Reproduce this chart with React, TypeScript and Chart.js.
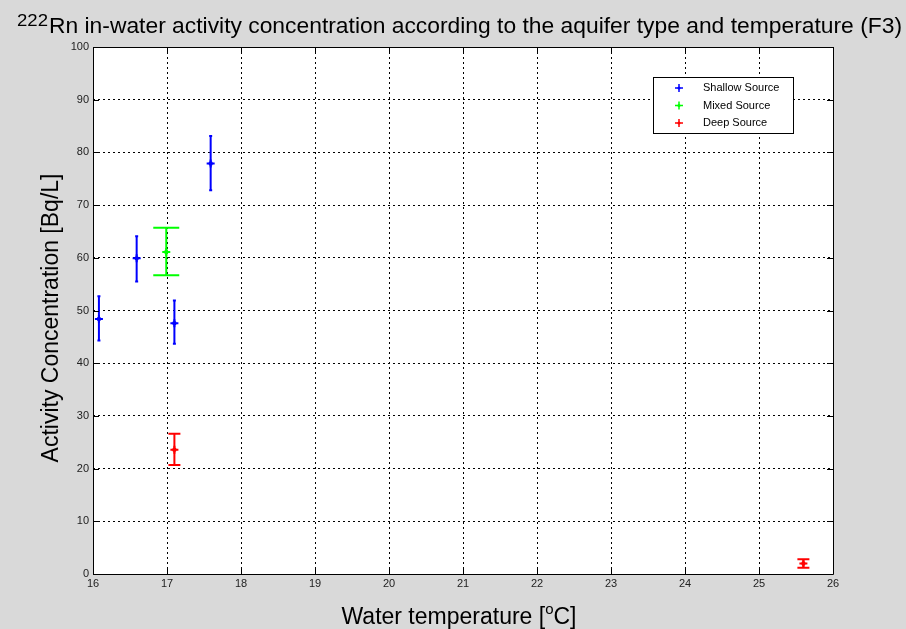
import React, { useEffect, useRef } from "react";
import { Chart, registerables } from "chart.js";

Chart.register(...registerables);

// ---- data ----
const shallowX = [16.08, 16.59, 17.1, 17.59];
const shallowY = [48.4, 59.9, 47.6, 77.9];
const shallowLow = [44.3, 55.5, 43.7, 72.8];
const shallowHigh = [52.7, 64.1, 51.9, 83.1];

const mixedX = [16.99];
const mixedY = [61.1];
const mixedLow = [56.7];
const mixedHigh = [65.7];

const deepX = [17.1, 25.6];
const deepY = [23.6, 2.0];
const deepLow = [20.7, 1.2];
const deepHigh = [26.6, 2.8];

const xTickValues = [16, 17, 18, 19, 20, 21, 22, 23, 24, 25, 26];
const yTickValues = [0, 10, 20, 30, 40, 50, 60, 70, 80, 90, 100];

const seriesNames = ["Shallow Source", "Mixed Source", "Deep Source"];
const seriesColors = ["#0000ff", "#00ff00", "#ff0000"];
const titleSup = "222";
const titleMain = "Rn in-water activity concentration according to the aquifer type and temperature (F3)";
const xLabelPre = "Water temperature [";
const xLabelSup = "o";
const xLabelPost = "C]";
const yLabel = "Activity Concentration [Bq/L]";

const FONT = "'Liberation Sans', Arial, sans-serif";

function pts(xs: number[], ys: number[], lo: number[], hi: number[]) {
  return xs.map((x, i) => ({ x, y: ys[i], lo: lo[i], hi: hi[i] }));
}

const bgPlugin = {
  id: "bg",
  beforeDraw(chart: any) {
    const { ctx, chartArea: a } = chart;
    ctx.save();
    ctx.fillStyle = "#d9d9d9";
    ctx.fillRect(0, 0, chart.width, chart.height);
    ctx.fillStyle = "#ffffff";
    ctx.fillRect(a.left, a.top, a.right - a.left, a.bottom - a.top);
    ctx.restore();
  },
};

const errPlugin = {
  id: "errbars",
  afterDatasetsDraw(chart: any) {
    const { ctx } = chart;
    const ys = chart.scales.y;
    chart.data.datasets.forEach((ds: any, di: number) => {
      const meta = chart.getDatasetMeta(di);
      ctx.save();
      ctx.strokeStyle = ds.borderColor;
      ctx.lineWidth = 2;
      meta.data.forEach((el: any, i: number) => {
        const d = ds.data[i];
        const px = el.x;
        const yl = ys.getPixelForValue(d.lo);
        const yh = ys.getPixelForValue(d.hi);
        const c = ds.capHalf;
        ctx.beginPath();
        ctx.moveTo(px, yl);
        ctx.lineTo(px, yh);
        ctx.moveTo(px - c, yl);
        ctx.lineTo(px + c, yl);
        ctx.moveTo(px - c, yh);
        ctx.lineTo(px + c, yh);
        ctx.stroke();
        ctx.fillStyle = ds.borderColor;
        ctx.beginPath();
        ctx.arc(px, el.y, 2.2, 0, Math.PI * 2);
        ctx.fill();
      });
      ctx.restore();
    });
  },
};

const framePlugin = {
  id: "frame",
  afterDraw(chart: any) {
    const { ctx, chartArea: a } = chart;
    const xs = chart.scales.x;
    const ys = chart.scales.y;
    ctx.save();
    ctx.strokeStyle = "#000";
    ctx.lineWidth = 1;
    ctx.beginPath();
    ctx.rect(Math.round(a.left) + 0.5, Math.round(a.top) + 0.5, Math.round(a.right - a.left), Math.round(a.bottom - a.top));
    ctx.stroke();
    const tl = 6;
    ctx.beginPath();
    xTickValues.forEach((v) => {
      const p = Math.round(xs.getPixelForValue(v)) + 0.5;
      ctx.moveTo(p, a.bottom);
      ctx.lineTo(p, a.bottom - tl);
      ctx.moveTo(p, a.top);
      ctx.lineTo(p, a.top + tl);
    });
    yTickValues.forEach((v) => {
      const p = Math.round(ys.getPixelForValue(v)) + 0.5;
      ctx.moveTo(a.left, p);
      ctx.lineTo(a.left + tl, p);
      ctx.moveTo(a.right, p);
      ctx.lineTo(a.right - tl, p);
    });
    ctx.stroke();

    // title
    ctx.fillStyle = "#000";
    ctx.textBaseline = "alphabetic";
    ctx.textAlign = "left";
    ctx.font = `16px ${FONT}`;
    const sw = ctx.measureText(titleSup).width;
    ctx.save();
    ctx.translate(17, 26);
    ctx.scale(31 / sw, 1);
    ctx.fillText(titleSup, 0, 0);
    ctx.restore();
    ctx.font = `22px ${FONT}`;
    const tw = ctx.measureText(titleMain).width;
    const target = 853;
    ctx.save();
    ctx.translate(49, 33);
    ctx.scale(target / tw, 1);
    ctx.fillText(titleMain, 0, 0);
    ctx.restore();

    // x label
    ctx.font = `23px ${FONT}`;
    const w1 = ctx.measureText(xLabelPre).width;
    ctx.font = `15px ${FONT}`;
    const w2 = ctx.measureText(xLabelSup).width;
    ctx.font = `23px ${FONT}`;
    const w3 = ctx.measureText(xLabelPost).width;
    const total = w1 + w2 + w3;
    const sx = 459 - total / 2;
    ctx.fillText(xLabelPre, sx, 624);
    ctx.font = `15px ${FONT}`;
    ctx.fillText(xLabelSup, sx + w1, 614);
    ctx.font = `23px ${FONT}`;
    ctx.fillText(xLabelPost, sx + w1 + w2, 624);

    // y label
    ctx.save();
    ctx.translate(58, 318);
    ctx.rotate(-Math.PI / 2);
    ctx.textAlign = "center";
    ctx.font = `23px ${FONT}`;
    ctx.fillText(yLabel, 0, 0);
    ctx.restore();

    // legend
    const lx = 653.5, ly = 77.5, lw = 140, lh = 56;
    ctx.fillStyle = "#fff";
    ctx.fillRect(lx, ly, lw, lh);
    ctx.strokeStyle = "#000";
    ctx.strokeRect(lx, ly, lw, lh);
    ctx.font = `11px ${FONT}`;
    ctx.textBaseline = "middle";
    seriesNames.forEach((n, i) => {
      const yy = 88 + i * 17.5;
      ctx.strokeStyle = seriesColors[i];
      ctx.lineWidth = 1.5;
      ctx.beginPath();
      ctx.moveTo(679 - 4, yy);
      ctx.lineTo(679 + 4, yy);
      ctx.moveTo(679, yy - 4);
      ctx.lineTo(679, yy + 4);
      ctx.stroke();
      ctx.fillStyle = seriesColors[i];
      ctx.beginPath();
      ctx.arc(679, yy, 1.5, 0, Math.PI * 2);
      ctx.fill();
      ctx.fillStyle = "#000";
      ctx.fillText(n, 703, yy);
    });
    ctx.restore();
  },
};

export default function App() {
  const ref = useRef<HTMLCanvasElement>(null);
  useEffect(() => {
    document.body.style.margin = "0";
    const canvas = ref.current!;
    const chart = new Chart(canvas, {
      type: "scatter",
      data: {
        datasets: [
          { label: seriesNames[0], data: pts(shallowX, shallowY, shallowLow, shallowHigh), borderColor: seriesColors[0], backgroundColor: seriesColors[0], capHalf: 1.5 } as any,
          { label: seriesNames[1], data: pts(mixedX, mixedY, mixedLow, mixedHigh), borderColor: seriesColors[1], backgroundColor: seriesColors[1], capHalf: 13 } as any,
          { label: seriesNames[2], data: pts(deepX, deepY, deepLow, deepHigh), borderColor: seriesColors[2], backgroundColor: seriesColors[2], capHalf: 6 } as any,
        ],
      },
      options: {
        responsive: false,
        animation: false,
        devicePixelRatio: 1,
        layout: { padding: { left: 0, right: 73, top: 47, bottom: 0 } },
        elements: {
          point: { pointStyle: "cross", radius: 4, borderWidth: 2, hoverRadius: 4 },
        },
        plugins: { legend: { display: false }, tooltip: { enabled: false }, title: { display: false } },
        scales: {
          x: {
            type: "linear",
            min: 16,
            max: 26,
            afterFit: (s: any) => { s.height = 55; },
            afterBuildTicks: (s: any) => { s.ticks = xTickValues.map((v) => ({ value: v })); },
            ticks: { color: "#222", font: { family: FONT, size: 11 }, padding: 3, maxRotation: 0 },
            grid: { color: "#000", lineWidth: 1, drawTicks: false },
            border: { display: false, dash: [2, 3] },
          },
          y: {
            type: "linear",
            min: 0,
            max: 100,
            afterFit: (s: any) => { s.width = 93; },
            afterBuildTicks: (s: any) => { s.ticks = yTickValues.map((v) => ({ value: v })); },
            ticks: { color: "#222", font: { family: FONT, size: 11 }, padding: 4 },
            grid: { color: "#000", lineWidth: 1, drawTicks: false },
            border: { display: false, dash: [2, 3] },
          },
        },
      } as any,
      plugins: [bgPlugin, errPlugin, framePlugin],
    });
    return () => chart.destroy();
  }, []);
  return <canvas ref={ref} width={906} height={629} style={{ display: "block" }} />;
}
